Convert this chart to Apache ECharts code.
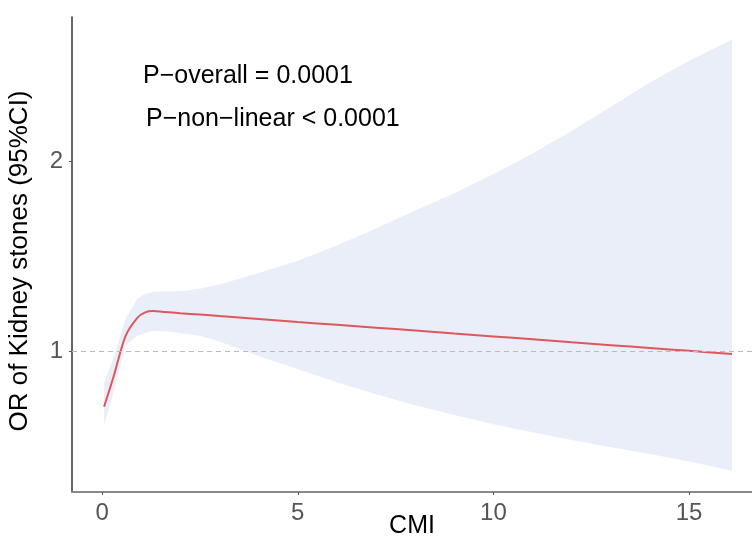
<!DOCTYPE html>
<html>
<head>
<meta charset="utf-8">
<script src="https://cdn.jsdelivr.net/npm/echarts@6/dist/echarts.min.js"></script>
<style>
  html, body { margin: 0; padding: 0; background: #fff; }
  #chart { width: 752px; height: 536px; }
</style>
</head>
<body>
<div id="chart"></div>
<script>
// CMI values and the fitted OR with its 95% CI
var cmi      = [0.05, 0.3, 0.6, 0.9, 1.1, 1.3, 1.6, 2, 2.5, 3, 4, 5, 6, 7, 8, 9, 10, 11, 12, 13, 14, 15, 16.1];
var or_fit   = [0.707, 0.87, 1.08, 1.175, 1.203, 1.21, 1.206, 1.199, 1.192, 1.184, 1.169, 1.153, 1.138, 1.123, 1.108, 1.092, 1.077, 1.062, 1.046, 1.031, 1.016, 1.001, 0.984];
var ci_lower = [0.61, 0.79, 1.03, 1.08, 1.095, 1.105, 1.104, 1.095, 1.08, 1.05, 0.974, 0.905, 0.835, 0.772, 0.715, 0.663, 0.615, 0.572, 0.532, 0.494, 0.458, 0.419, 0.37];
var ci_upper = [0.83, 0.97, 1.17, 1.277, 1.30, 1.312, 1.313, 1.315, 1.328, 1.35, 1.41, 1.475, 1.555, 1.645, 1.74, 1.83, 1.93, 2.04, 2.158, 2.286, 2.413, 2.528, 2.64];
var x_ticks  = [0, 5, 10, 15];
var y_ticks  = [1, 2];
var p_texts  = ["P\u2212overall = 0.0001", "P\u2212non\u2212linear < 0.0001"];

var chart = echarts.init(document.getElementById("chart"));

var fit_data = cmi.map(function (x, i) { return [x, or_fit[i]]; });
var band_data = cmi.map(function (x, i) { return [x, ci_lower[i], ci_upper[i]]; });

var option = {
    animation: false,
    grid: { left: 72, right: 0, top: 17, bottom: 44, outerBoundsMode: "none", containLabel: false },
    textStyle: { fontFamily: "Liberation Sans, Arial, sans-serif" },
    xAxis: {
        type: "value",
        min: -0.77,
        max: 16.61,
        name: "CMI",
        nameLocation: "middle",
        nameGap: 22,
        nameMoveOverlap: false,
        nameTextStyle: { fontSize: 25, color: "#000", verticalAlign: "top" },
        axisLine: { onZero: false, lineStyle: { color: "#888", width: 2 } },
        axisTick: { show: true, length: 3, customValues: x_ticks, lineStyle: { color: "#555" } },
        axisLabel: { customValues: x_ticks, fontSize: 24, color: "#555", margin: 9 },
        splitLine: { show: false }
    },
    yAxis: {
        type: "value",
        min: 0.258,
        max: 2.758,
        name: "OR of Kidney stones (95%CI)",
        nameLocation: "middle",
        nameGap: 39,
        nameMoveOverlap: false,
        nameTextStyle: { fontSize: 26, color: "#000", padding: [0, 13, 0, 0] },
        axisLine: { show: true, onZero: false, lineStyle: { color: "#333", width: 1.5 } },
        axisTick: { show: true, length: 3, customValues: y_ticks, lineStyle: { color: "#555" } },
        axisLabel: { customValues: y_ticks, fontSize: 24, color: "#555", margin: 9 },
        splitLine: { show: false }
    },
    graphic: [
        { type: "text", left: 143, top: 64, style: { text: p_texts[0], fontSize: 25, fill: "#000", fontFamily: "Liberation Sans, Arial, sans-serif" } },
        { type: "text", left: 146, top: 107, style: { text: p_texts[1], fontSize: 25, fill: "#000", fontFamily: "Liberation Sans, Arial, sans-serif" } }
    ],
    series: [
        {
            type: "custom",
            data: band_data,
            silent: true,
            z: 1,
            renderItem: function (params, api) {
                if (params.dataIndex !== 0) return;
                var top = [], bottom = [];
                for (var i = 0; i < band_data.length; i++) {
                    top.push(api.coord([band_data[i][0], band_data[i][2]]));
                    bottom.push(api.coord([band_data[i][0], band_data[i][1]]));
                }
                return {
                    type: "polygon",
                    shape: { points: top.concat(bottom.reverse()) },
                    style: { fill: "#E9EEF9", stroke: null }
                };
            }
        },
        {
            type: "line",
            data: fit_data,
            symbol: "none",
            smooth: 0.3,
            z: 3,
            lineStyle: { color: "#DC585D", width: 2 },
            markLine: {
                silent: true,
                symbol: "none",
                label: { show: false },
                lineStyle: { color: "#BBB", type: [5, 4], width: 1 },
                data: [{ yAxis: 1 }]
            }
        }
    ]
};

chart.setOption(option);
</script>
</body>
</html>
